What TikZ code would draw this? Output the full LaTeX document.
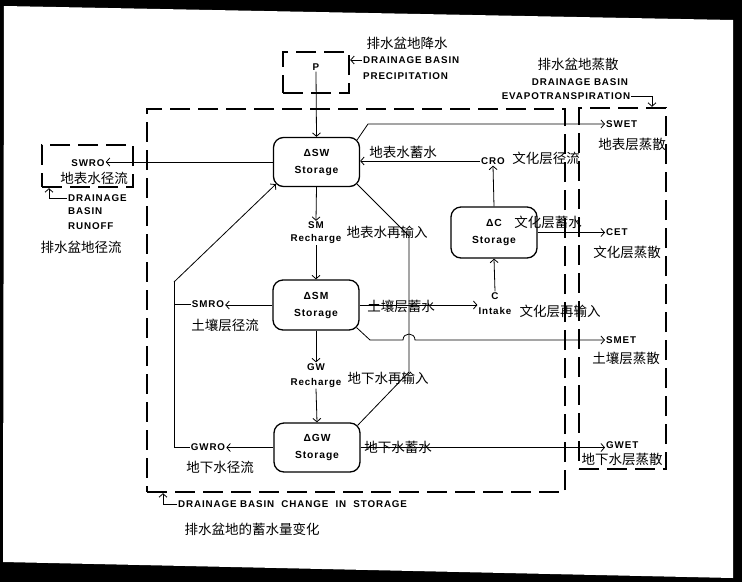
\documentclass[tikz,border=0pt]{standalone}
\usepackage{fontspec}
\setmainfont{Liberation Sans}[LetterSpace=9]
\newfontfamily\cjk{Noto Sans CJK SC}
\usetikzlibrary{arrows.meta,calc}
\tikzset{
 en/.style={font=\fontsize{9.8}{12}\selectfont\bfseries, inner sep=1pt, align=center},
 zh/.style={font=\cjk\fontsize{13.5}{15}\selectfont, inner sep=0pt},
 store/.style={draw, line width=1.3pt, rounded corners=10pt, minimum width=86pt, minimum height=49pt, align=center, inner sep=0pt, font=\fontsize{10.3}{17}\selectfont\bfseries},
 dbox/.style={draw, line width=2.4pt, dash pattern=on 20pt off 8pt, inner sep=0pt},
 conn/.style={line width=0.8pt},
 arr/.style={conn, -{Straight Barb[length=3.5pt,width=8pt]}},
}
\begin{document}
\begin{tikzpicture}[x=1pt,y=-1pt]
\fill[black] (0,0) rectangle (742,582);
\fill[white] (4,6) -- (733,20) -- (733,578) -- (3,562) -- cycle;
\useasboundingbox (0,0) rectangle (742,582);

% dashed boundary boxes
\node[dbox, minimum width=66pt, minimum height=41pt] (pbox) at (316,72.5) {};
\node[dbox, minimum width=418pt, minimum height=383pt] (basin) at (356,300.5) {};
\node[dbox, minimum width=87pt, minimum height=361pt] (etbox) at (622.5,288.5) {};
\node[dbox, minimum width=91pt, minimum height=42pt] (swrobox) at (87.5,166) {};

% storages
\node[store] (sw) at (316.5,162) {ΔSW\\Storage};
\node[store, minimum height=50pt] (sm) at (316,305) {ΔSM\\Storage};
\node[store] (gw) at (317,447.5) {ΔGW\\Storage};
\node[store, minimum height=51pt] (c) at (494,232.5) {ΔC\\Storage};

% small labels
\node[en] (p) at (316,67) {P};
\node[en, anchor=west] (dbp1) at (362,60) {DRAINAGE BASIN};
\node[en, anchor=west] (dbp2) at (362,76) {PRECIPITATION};
\node[zh] (zp) at (407,43) {排水盆地降水};

\node[zh] (zet) at (578,64) {排水盆地蒸散};
\node[en] (et1) at (580,82) {DRAINAGE BASIN};
\node[en] (evap) at (566,96) {EVAPOTRANSPIRATION};

\node[en, font=\fontsize{9.8}{13}\selectfont\bfseries] (smr) at (316,233) {SM\\Recharge};
\node[en, font=\fontsize{9.8}{15}\selectfont\bfseries] (gwr) at (316,375.5) {GW\\Recharge};
\node[en, font=\fontsize{9.8}{15}\selectfont\bfseries] (cint) at (495,303.5) {C\\Intake};
\node[en] (cro) at (493,161) {CRO};

\node[en, anchor=west] (swet) at (605,124) {SWET};
\node[en, anchor=west] (cet) at (605,232) {CET};
\node[en, anchor=west] (smet) at (605,340) {SMET};
\node[en, anchor=west] (gwet) at (605,445) {GWET};

\node[en] (swro) at (88,163) {SWRO};
\node[en] (smro) at (208,304) {SMRO};
\node[en] (gwro) at (208,447) {GWRO};

\node[en, anchor=west] (ro1) at (67,198) {DRAINAGE};
\node[en, anchor=west] (ro2) at (67,211) {BASIN};
\node[en, anchor=west] (ro3) at (67,226) {RUNOFF};
\node[zh] (zro) at (81,247) {排水盆地径流};

\node[en, anchor=west] (cis) at (177,504) {DRAINAGE BASIN \ CHANGE \ IN \ STORAGE};
\node[zh] (zcis) at (252,529) {排水盆地的蓄水量变化};

% chinese labels
\node[zh] (z1) at (632,144) {地表层蒸散};
\node[zh] (z2) at (546,158) {文化层径流};
\node[zh] (z3) at (403,152) {地表水蓄水};
\node[zh] (z4) at (94,178) {地表水径流};
\node[zh] (z5) at (387,232) {地表水再输入};
\node[zh] (z6) at (548,222) {文化层蓄水};
\node[zh] (z7) at (627,252) {文化层蒸散};
\node[zh] (z9) at (560,311) {文化层再输入};
\node[zh] (z10) at (225,325) {土壤层径流};
\node[zh] (z11) at (626,358) {土壤层蒸散};
\node[zh] (z12) at (388,378) {地下水再输入};
\node[zh] (z14) at (220,467) {地下水径流};
\node[zh] (z15) at (622,459) {地下水层蒸散};

% coordinates
\coordinate (jl) at (174,282);
\coordinate (jb) at (174,447);
\coordinate (swk) at (368,124);
\coordinate (vt) at (409,236);
\coordinate (vb) at (409,372);
\coordinate (smk) at (370,340);
\coordinate (etk) at (652,96);
\coordinate (rok) at (49,198);
\coordinate (cisk) at (163,504);

% connectors
\draw[arr] (p.south) -- (sw.north);
\draw[arr] (dbp1.west) -- (dbp1.west -| pbox.east);
\draw[arr] (evap.east) -- (etk) -- (etk |- etbox.north);
\draw[arr] (ro1.west) -- (rok) -- (rok |- swrobox.south);
\draw[arr] (cis.west) -- (cisk) -- (cisk |- basin.south);

\draw[arr] (sw.south) -- (smr.north);
\draw[arr] (smr.south) -- (sm.north);
\draw[arr] (sm.south) -- (gwr.north);
\draw[arr] (gwr.south) -- (gw.north);

\draw[arr] (sw.west) -- (sw.west -| swro.east);
\draw[arr] (sm.west) -- (sm.west -| smro.east);
\draw[arr] (gw.west) -- (gw.west -| gwro.east);
\draw[conn] (gwro.west) -- (jb) -- (jl);
\draw[arr] (jl) -- ([shift={(3,-3)}]sw.south west);
\draw[conn] (smro.west) -- (smro.west -| jl);

\draw[arr] ([shift={(-3,3)}]sw.north east) -- (swk) -- (swk -| swet.west);
\draw[arr] (cro.west) -- (cro.west -| sw.east);
\draw[arr] (c.north) -- (cro.south);
\draw[arr] (c.east) -- (c.east -| cet.west);
\draw[arr] (cint.north) -- (c.south);
\draw[arr] (sm.east) -- (sm.east -| cint.west);
\draw[conn] ([shift={(-3,-3)}]sw.south east) -- (vt) -- (vb) -- ([shift={(-3,3)}]gw.north east);
\draw[arr] ([shift={(-3,-3)}]sm.south east) -- (smk) -- (403,340) .. controls (403,332) and (415,332) .. (415,340) -- (smk -| smet.west);
\draw[arr] (gw.east) -- (gw.east -| gwet.west);

% labels overlaying lines
\node[zh] (z8) at (401,306) {土壤层蓄水};
\node[zh] (z13) at (398,447) {地下水蓄水};
\end{tikzpicture}
\end{document}
